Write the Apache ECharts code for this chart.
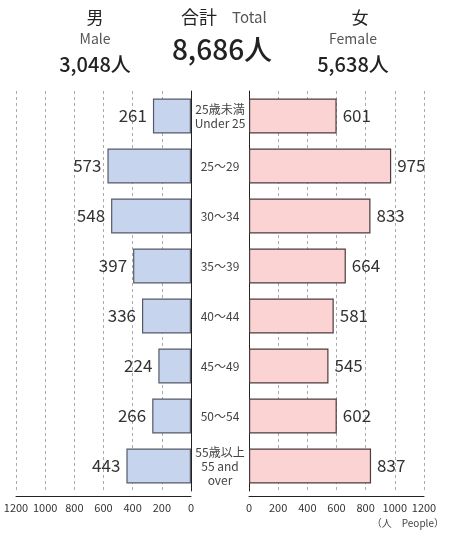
<!DOCTYPE html>
<html>
<head>
<meta charset="utf-8">
<script src="https://cdn.jsdelivr.net/npm/echarts@6/dist/echarts.min.js"></script>
<style>
  html, body { margin: 0; padding: 0; background: #fff; }
  #chart { width: 449px; height: 534px; }
</style>
</head>
<body>
<div id="chart"></div>
<script>
var ageGroups = ['25歳未満\nUnder 25', '25～29', '30～34', '35～39', '40～44', '45～49', '50～54', '55歳以上\n55 and\nover'];
var maleValues = [261, 573, 548, 397, 336, 224, 266, 443];
var femaleValues = [601, 975, 833, 664, 581, 545, 602, 837];
var axisTicks = [0, 200, 400, 600, 800, 1000, 1200];
var totals = { male: '3,048人', female: '5,638人', all: '8,686人' };

var font = '"Noto Sans CJK JP", "Noto Sans", sans-serif';

var chart = echarts.init(document.getElementById('chart'));

var axisMax = axisTicks[axisTicks.length - 1];
var axisStep = axisTicks[1] - axisTicks[0];

function xAxisFor(idx, inverse) {
  return {
    type: 'value',
    gridIndex: idx,
    min: 0,
    max: axisMax,
    interval: axisStep,
    inverse: inverse,
    offset: 5,
    axisLine: { show: true, lineStyle: { color: '#222', width: 1 } },
    axisTick: { show: false },
    axisLabel: {
      color: '#333', fontSize: 11, fontFamily: font, margin: 6,
      formatter: function (v) { return String(v); }
    },
    splitLine: { show: true, lineStyle: { color: '#aaa', type: [3, 3], width: 1 } }
  };
}

chart.setOption({
  backgroundColor: '#fff',
  animation: false,
  textStyle: { fontFamily: font },
  title: [
    { text: '男', left: 90, top: 4, textAlign: 'center', textStyle: { fontSize: 17, fontWeight: 'normal', color: '#222' } },
    { text: 'Male', left: 90, top: 27, textAlign: 'center', textStyle: { fontSize: 14, fontWeight: 'normal', color: '#555' } },
    { text: totals.male, left: 90, top: 49, textAlign: 'center', textStyle: { fontSize: 20, fontWeight: 500, color: '#222' } },
    { text: '合計', left: 194, top: 3, textAlign: 'center', textStyle: { fontSize: 18, fontWeight: 'normal', color: '#222' } },
    { text: 'Total', left: 227, top: 5, textStyle: { fontSize: 15, fontWeight: 'normal', color: '#555' } },
    { text: totals.all, left: 217, top: 30, textAlign: 'center', textStyle: { fontSize: 28, fontWeight: 500, color: '#222' } },
    { text: '女', left: 355, top: 4, textAlign: 'center', textStyle: { fontSize: 17, fontWeight: 'normal', color: '#222' } },
    { text: 'Female', left: 348, top: 27, textAlign: 'center', textStyle: { fontSize: 14, fontWeight: 'normal', color: '#555' } },
    { text: totals.female, left: 348, top: 49, textAlign: 'center', textStyle: { fontSize: 20, fontWeight: 500, color: '#222' } },
    { text: '（人　People）', right: 0, top: 513, textStyle: { fontSize: 10, fontWeight: 'normal', color: '#444' } }
  ],
  grid: [
    { left: 16, width: 175, top: 91, height: 400 },
    { left: 249, width: 175, top: 91, height: 400 }
  ],
  xAxis: [xAxisFor(0, true), xAxisFor(1, false)],
  yAxis: [
    {
      type: 'category',
      gridIndex: 0,
      position: 'right',
      inverse: true,
      data: ageGroups,
      axisLine: { show: true, onZero: false, lineStyle: { color: '#222', width: 1 } },
      axisTick: { show: false },
      axisLabel: {
        color: '#444', fontSize: 12, lineHeight: 14, align: 'center', margin: 29,
        fontFamily: font
      }
    },
    {
      type: 'category',
      gridIndex: 1,
      position: 'left',
      inverse: true,
      data: ageGroups,
      axisLine: { show: true, onZero: false, lineStyle: { color: '#222', width: 1 } },
      axisTick: { show: false },
      axisLabel: { show: false }
    }
  ],
  series: [
    {
      name: '男',
      type: 'bar',
      xAxisIndex: 0,
      yAxisIndex: 0,
      data: maleValues,
      barCategoryGap: '30%',
      itemStyle: { color: '#c6d4ee', borderColor: '#555a66', borderWidth: 1.2 },
      label: { show: true, position: 'left', distance: 6, fontSize: 17, color: '#333', fontFamily: font }
    },
    {
      name: '女',
      type: 'bar',
      xAxisIndex: 1,
      yAxisIndex: 1,
      data: femaleValues,
      barCategoryGap: '30%',
      itemStyle: { color: '#fbd3d3', borderColor: '#4d3c3c', borderWidth: 1.2 },
      label: { show: true, position: 'right', distance: 6, fontSize: 17, color: '#333', fontFamily: font }
    }
  ]
});
</script>
</body>
</html>
